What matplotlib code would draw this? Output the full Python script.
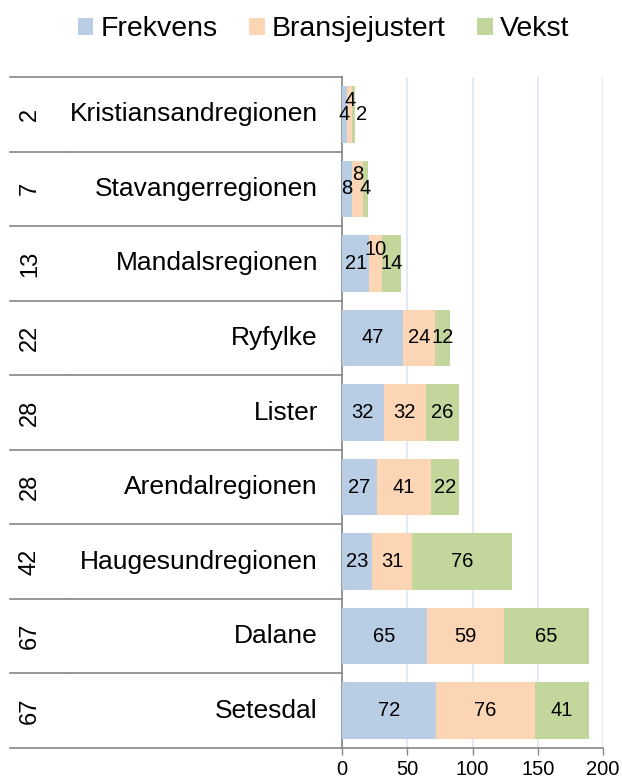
import numpy as np
import matplotlib.pyplot as plt
import matplotlib.transforms as mtransforms

plt.rcParams['font.family'] = ['Liberation Sans', 'DejaVu Sans']

# data, top row first
regions = ['Kristiansandregionen', 'Stavangerregionen', 'Mandalsregionen', 'Ryfylke',
           'Lister', 'Arendalregionen', 'Haugesundregionen', 'Dalane', 'Setesdal']
ranks = [2, 7, 13, 22, 28, 28, 42, 67, 67]
frekvens = [4, 8, 21, 47, 32, 27, 23, 65, 72]
bransje = [4, 8, 10, 24, 32, 41, 31, 59, 76]
vekst = [2, 4, 14, 12, 26, 22, 76, 65, 41]

series = [('Frekvens', frekvens, '#B9CDE5'),
          ('Bransjejustert', bransje, '#FCD5B5'),
          ('Vekst', vekst, '#C3D69B')]

fig = plt.figure(figsize=(6.22, 7.82), dpi=100)
ax = fig.add_axes([0.5498, 0.0435, 0.4198, 0.858])

y = np.arange(len(regions))
left = np.zeros(len(regions))
for k, (name, vals, col) in enumerate(series):
    vals = np.array(vals, dtype=float)
    ax.barh(y, vals, left=left, height=0.76, color=col, label=name, zorder=3)
    for i, v in enumerate(vals):
        dx, dy = 0, 0
        if k == 1 and v < 15:
            dy = 10     # Excel lifts crowded middle labels
        if k == 2 and v < 3:
            dx = 6
        ax.annotate(str(int(v)), (left[i] + v / 2, y[i]), xytext=(dx, dy),
                    textcoords='offset points', ha='center', va='center',
                    fontsize=14.5, color='black', zorder=4)
    left += vals

ax.set_xlim(0, 200)
ax.set_ylim(len(regions) - 0.5, -0.5)
ax.set_xticks([0, 50, 100, 150, 200])
ax.tick_params(axis='x', length=5, width=1, color='#868686', pad=4, labelsize=14.5)
ax.set_yticks([])
ax.grid(axis='x', color='#DCE6F2', linewidth=1.2, zorder=0)
for s in ['top', 'right']:
    ax.spines[s].set_visible(False)
for s in ['left', 'bottom']:
    ax.spines[s].set_color('#868686')
    ax.spines[s].set_linewidth(1.2)

# two-level category axis
trans = mtransforms.blended_transform_factory(ax.transAxes, ax.transData)
for b in np.arange(len(regions) + 1) - 0.5:
    ax.plot([-1.272, -1.058], [b, b], transform=trans, color='#868686', lw=1.2, clip_on=False)
    ax.plot([-1.054, 0], [b, b], transform=trans, color='#868686', lw=1.2, clip_on=False)
for i in range(len(regions)):
    ax.text(-0.092, y[i], regions[i], transform=trans, ha='right', va='center', fontsize=19)
    ax.text(-1.195, y[i], str(ranks[i]), transform=trans, ha='center', va='center',
            rotation=90, fontsize=17)

fig.legend(loc='upper center', bbox_to_anchor=(0.52, 1.012), ncol=3, frameon=False,
           fontsize=20.5, handlelength=0.55, handleheight=0.55, handletextpad=0.25,
           columnspacing=1.1)

fig.savefig('out.png', dpi=100)
